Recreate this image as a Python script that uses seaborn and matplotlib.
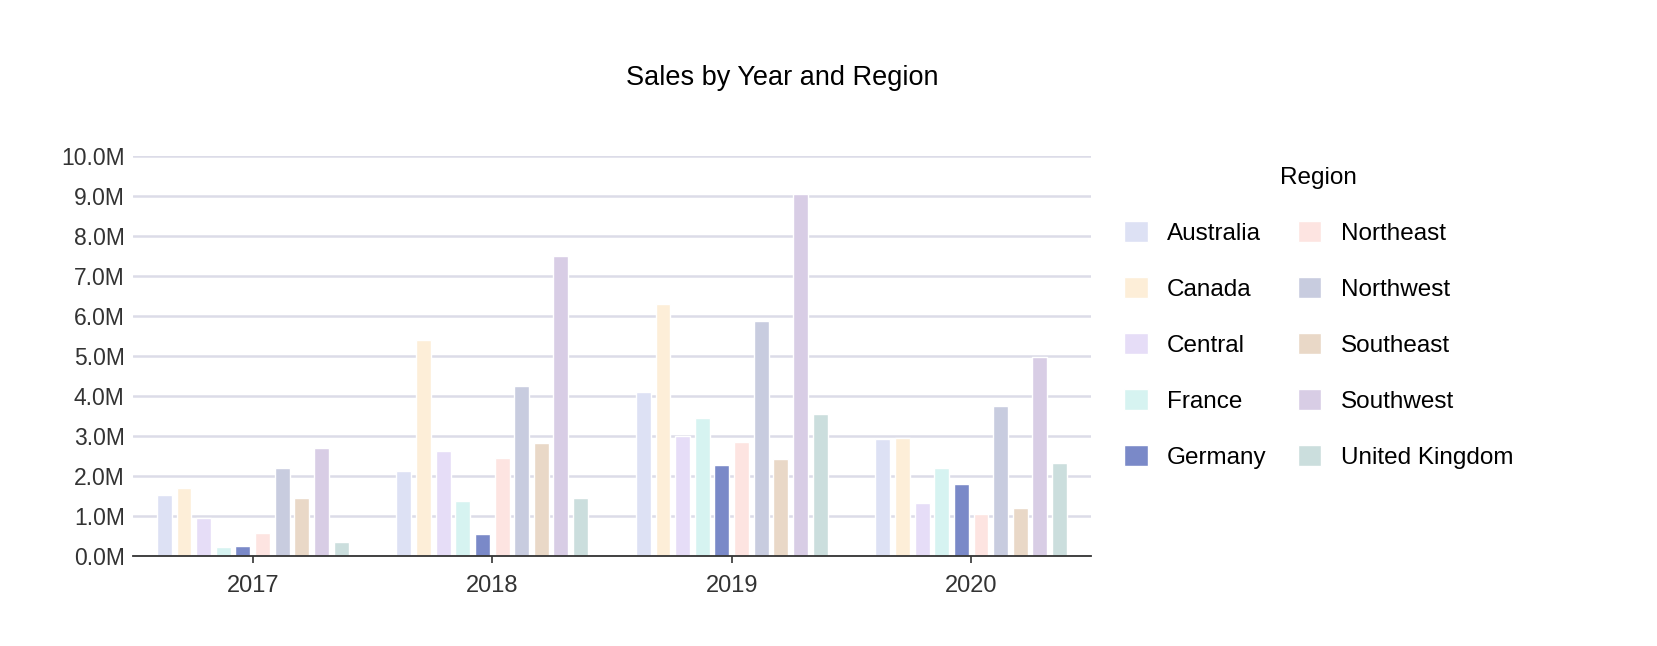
# Grouped bar chart: sales by year and region (Germany highlighted, others faded)

import pandas as pd
import matplotlib.pyplot as plt
import seaborn as sns

# --- data ---
years = ["2017", "2018", "2019", "2020"]
regions = ["Australia", "Canada", "Central", "France", "Germany",
           "Northeast", "Northwest", "Southeast", "Southwest", "United Kingdom"]

australia = [1.52, 2.12, 4.08, 2.91]
canada = [1.70, 5.39, 6.28, 2.93]
central = [0.95, 2.62, 3.00, 1.31]
france = [0.22, 1.37, 3.44, 2.18]
germany = [0.25, 0.54, 2.27, 1.80]
northeast = [0.56, 2.43, 2.85, 1.03]
northwest = [2.19, 4.25, 5.87, 3.73]
southeast = [1.44, 2.81, 2.42, 1.18]
southwest = [2.68, 7.48, 9.04, 4.96]
united_kingdom = [0.35, 1.43, 3.54, 2.32]

region_colors = ["#dde1f4", "#fdeed8", "#e6ddf7", "#d6f3f1", "#7a89c8",
                 "#fde4e1", "#c8ccdf", "#e9d8c7", "#d8cde5", "#cbdedd"]

series = [australia, canada, central, france, germany,
          northeast, northwest, southeast, southwest, united_kingdom]

rows = []
for region, vals in zip(regions, series):
    for year, v in zip(years, vals):
        rows.append({"year": year, "region": region, "sales": v * 1e6})
df = pd.DataFrame(rows)

# --- plot ---
sns.set_style("white")
plt.rcParams["font.family"] = ["Liberation Sans", "DejaVu Sans"]

fig = plt.figure(figsize=(16.58, 6.46), dpi=100)
ax = fig.add_axes([0.0802, 0.1398, 0.5778, 0.6192])

sns.barplot(data=df, x="year", y="sales", hue="region",
            order=years, hue_order=regions,
            palette=region_colors, width=0.82, gap=0.24,
            saturation=1, errorbar=None, ax=ax)

ax.set_ylim(0, 10e6)
ax.set_xlim(-0.5, 3.5)
ax.set_yticks([i * 1e6 for i in range(11)])
ax.yaxis.set_major_formatter(plt.FuncFormatter(lambda y, p: f"{y/1e6:.1f}M"))
ax.grid(axis="y", color="#dcdce8", linewidth=1.8)
ax.set_axisbelow(True)
for side in ["top", "right", "left"]:
    ax.spines[side].set_visible(False)
ax.spines["bottom"].set_color("#333333")
ax.spines["bottom"].set_linewidth(1.3)
ax.tick_params(axis="y", length=0, pad=6, labelsize=16.5, labelcolor="#333333")
ax.tick_params(axis="x", length=5, width=1.2, color="#333333", pad=9,
               labelsize=17, labelcolor="#333333", bottom=True)
ax.set_xlabel("")
ax.set_ylabel("")

sns.move_legend(ax, loc="upper left", bbox_to_anchor=(0.665, 0.775),
                bbox_transform=fig.transFigure, ncol=2, frameon=False,
                title="Region", fontsize=17.5, title_fontsize=17.5,
                handlelength=0.95, handleheight=0.95, labelspacing=1.32,
                handletextpad=0.8, columnspacing=1.3)
leg = ax.get_legend()
for t in leg.get_texts():
    t.set_color("black")
leg.get_title().set_color("black")

fig.text(0.472, 0.879, "Sales by Year and Region", ha="center", va="center",
         fontsize=19.5, color="black")

plt.savefig("out.png", dpi=100, facecolor="white")
